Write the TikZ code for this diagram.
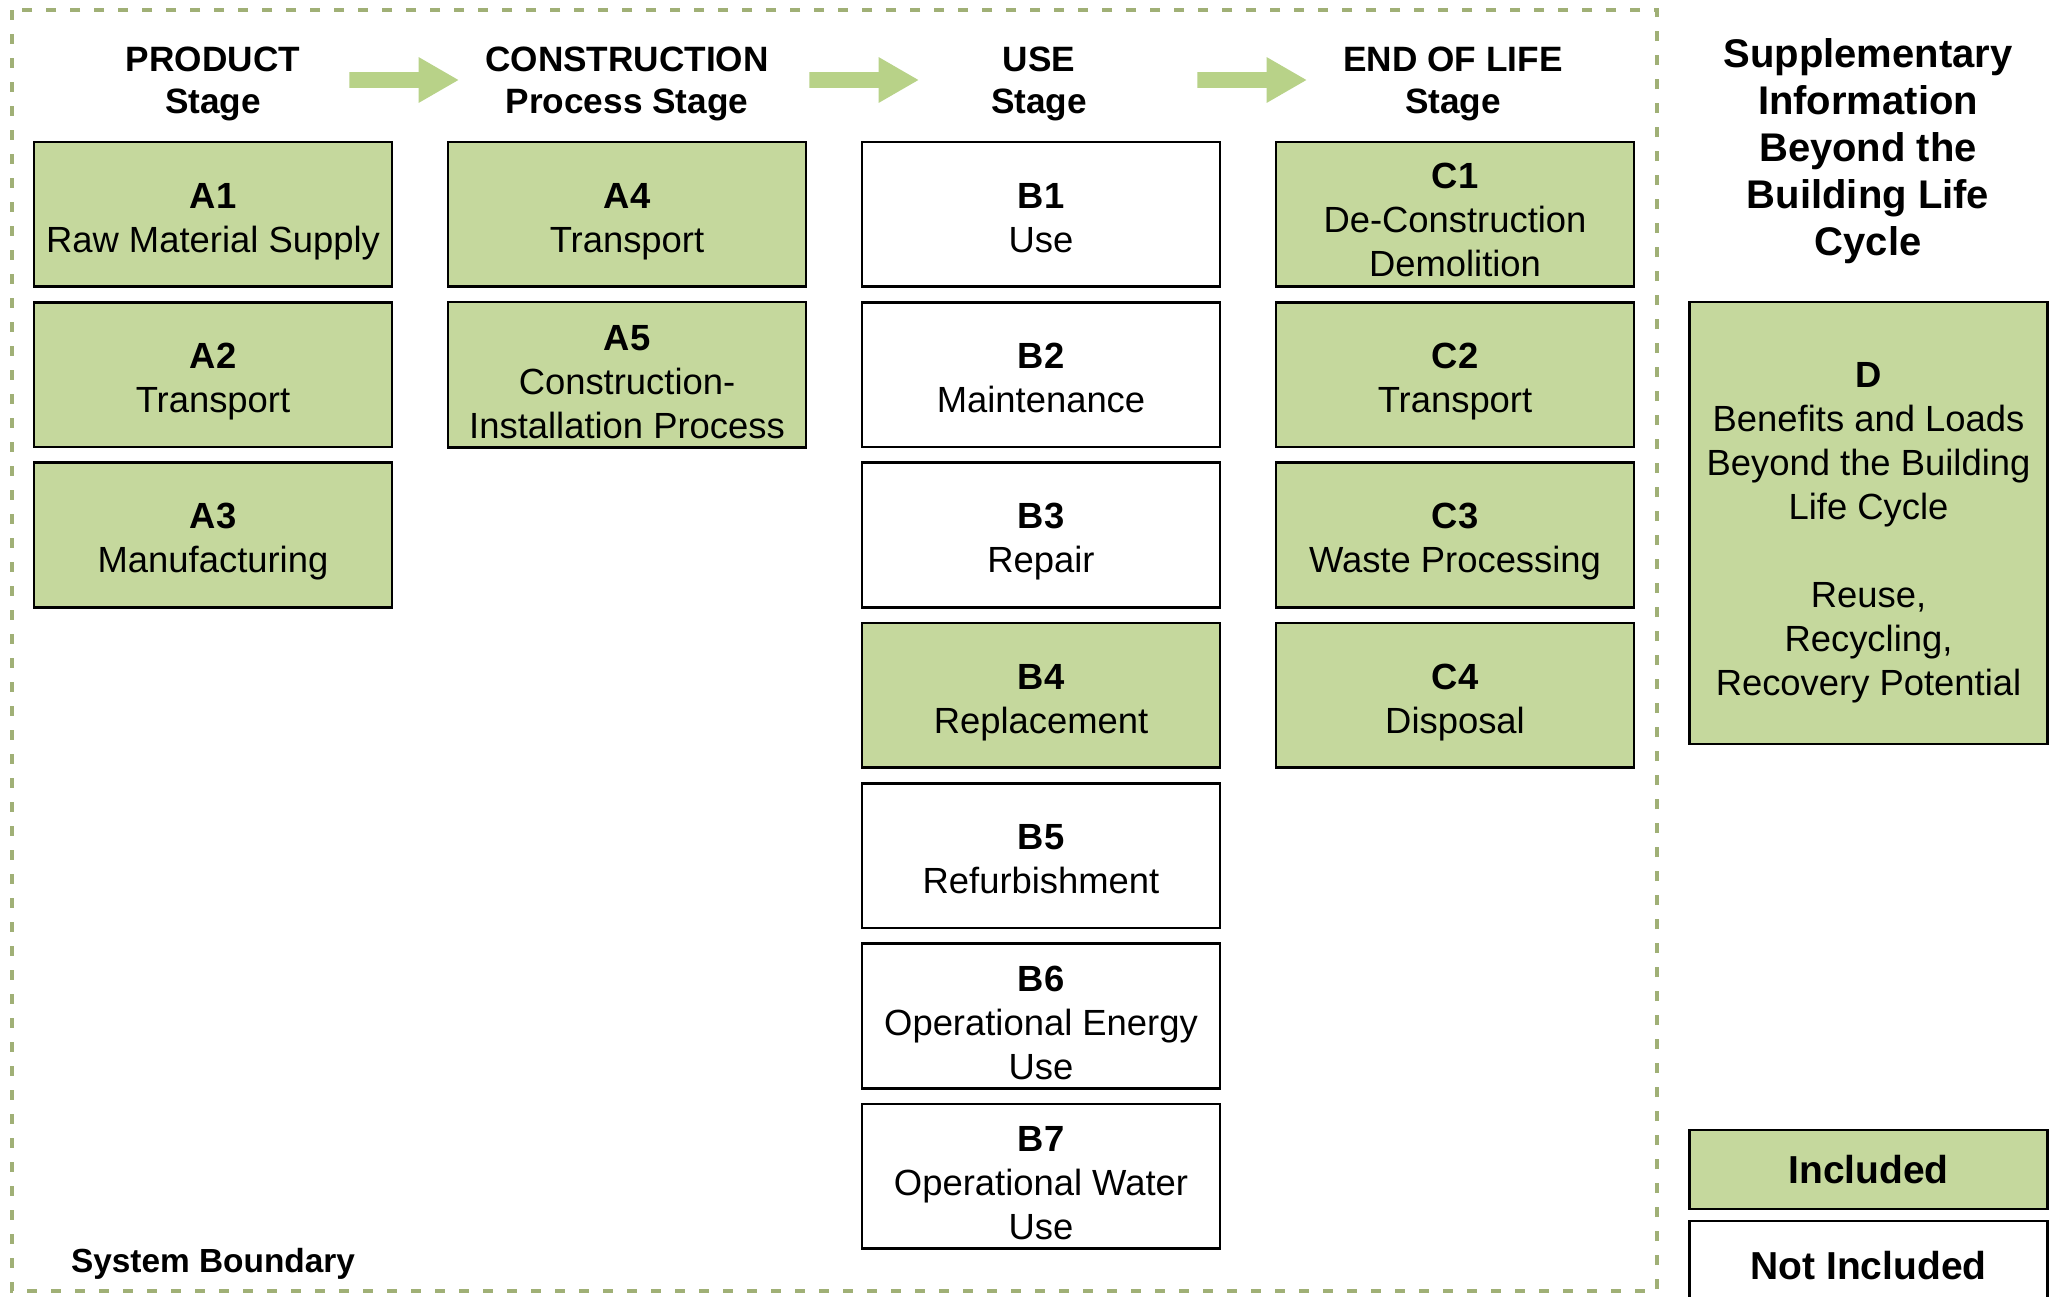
\documentclass[tikz,border=0pt]{standalone}
\usepackage{fontspec}
\setmainfont{Liberation Sans}
\usetikzlibrary{shapes.arrows}
\definecolor{boxgreen}{RGB}{197,216,157}
\definecolor{arrowgreen}{RGB}{184,210,136}
\definecolor{boundary}{RGB}{160,176,118}
\newcommand{\bx}[3][19.9pt]{\rule{0pt}{#1}\textbf{#2}\\#3\rule[-4.2pt]{0pt}{4.2pt}}
\begin{document}
\begin{tikzpicture}[x=0.5pt,y=-0.5pt,
  stagebox/.style={draw=black, line width=1.3pt, minimum width=179pt, minimum height=72.3pt, inner sep=0pt, align=center, font=\fontsize{18.2}{22}\selectfont},
  incl/.style={stagebox, fill=boxgreen},
  excl/.style={stagebox, fill=white},
  header/.style={align=center, font=\bfseries\fontsize{17.6}{21}\selectfont},
  blockarrow/.style={single arrow, fill=arrowgreen, draw=none, minimum height=54.5pt, minimum width=22.5pt, inner sep=3.75pt, single arrow head extend=7.5pt, single arrow tip angle=60}
]
\useasboundingbox (0,0) rectangle (2061,1296);
\fill[white] (0,0) rectangle (2061,1296);
\draw[boundary, line width=2pt, dash pattern=on 5pt off 7pt] (12,10) rectangle (1657,1291);

% headers
\node[header] (hA) at (213,84) {PRODUCT\\Stage};
\node[header] (hAB) at (627,84) {CONSTRUCTION\\Process Stage};
\node[header] (hB) at (1039,84) {USE\\Stage};
\node[header] (hC) at (1453,84) {END OF LIFE\\Stage};
\node[align=center, font=\bfseries\fontsize{20}{23.5}\selectfont] (hD) at (1868,151) {Supplementary\\Information\\Beyond the\\Building Life\\Cycle};

% arrows
\node[blockarrow] (ar1) at (397,80) {};
\node[blockarrow] (ar2) at (857,80) {};
\node[blockarrow] (ar3) at (1245,80) {};

% product stage
\node[incl] (A1) at (213,214.3) {\bx{A1}{Raw Material Supply}};
\node[incl] (A2) at (213,374.6) {\bx{A2}{Transport}};
\node[incl] (A3) at (213,535) {\bx{A3}{Manufacturing}};

% construction stage
\node[incl] (A4) at (627,214.3) {\bx{A4}{Transport}};
\node[incl] (A5) at (627,374.6) {\bx[24.5pt]{A5}{Construction-\\Installation Process}};

% use stage
\node[excl] (B1) at (1041,214.3) {\bx{B1}{Use}};
\node[excl] (B2) at (1041,374.6) {\bx{B2}{Maintenance}};
\node[excl] (B3) at (1041,535) {\bx{B3}{Repair}};
\node[incl] (B4) at (1041,695.3) {\bx{B4}{Replacement}};
\node[excl] (B5) at (1041,855.7) {\bx{B5}{Refurbishment}};
\node[excl] (B6) at (1041,1016) {\bx[23.8pt]{B6}{Operational Energy\\Use}};
\node[excl] (B7) at (1041,1176.3) {\bx[23.8pt]{B7}{Operational Water\\Use}};

% end of life stage
\node[incl] (C1) at (1455,214.3) {\bx[22.8pt]{C1}{De-Construction\\Demolition}};
\node[incl] (C2) at (1455,374.6) {\bx{C2}{Transport}};
\node[incl] (C3) at (1455,535) {\bx{C3}{Waste Processing}};
\node[incl] (C4) at (1455,695.3) {\bx{C4}{Disposal}};

% supplementary
\node[incl, minimum height=220.9pt] (D) at (1868.5,523) {\bx[22.5pt]{D}{Benefits and Loads\\Beyond the Building\\Life Cycle\\[22pt]Reuse,\\Recycling,\\Recovery Potential}};

% legend
\node[incl, minimum height=39.5pt, font=\bfseries\fontsize{19.5}{23}\selectfont] (inc) at (1868.5,1169.5) {Included};
\node[excl, minimum height=44.5pt, font=\bfseries\fontsize{19.5}{23}\selectfont] (notinc) at (1868.5,1265.5) {Not Included};

\node[anchor=west, font=\bfseries\fontsize{16.7}{20}\selectfont] (sb) at (64,1264) {System Boundary};
\end{tikzpicture}
\end{document}
